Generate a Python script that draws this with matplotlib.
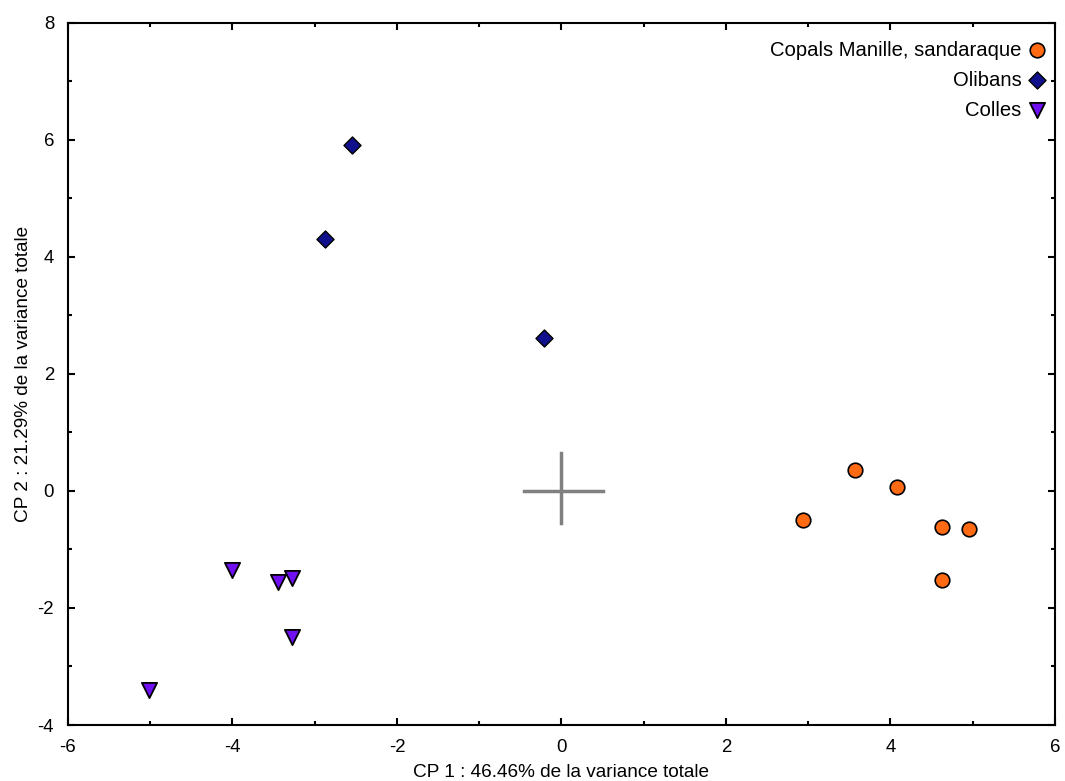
import matplotlib
matplotlib.use('Agg')
from matplotlib import pyplot as plt
from matplotlib.ticker import MultipleLocator

plt.rcParams['font.family'] = ['Liberation Sans', 'DejaVu Sans']
plt.rcParams['axes.unicode_minus'] = False

# scores on the first two principal components
copals_x = [2.94, 3.57, 4.08, 4.63, 4.95, 4.63]
copals_y = [-0.50, 0.36, 0.07, -0.62, -0.65, -1.52]
olibans_x = [-2.55, -2.88, -0.21]
olibans_y = [5.91, 4.31, 2.62]
colles_x = [-4.00, -3.45, -3.28, -3.28, -5.02]
colles_y = [-1.35, -1.56, -1.49, -2.49, -3.40]

labels = ['Copals Manille, sandaraque', 'Olibans', 'Colles']
x_label = 'CP 1 : 46.46% de la variance totale'
y_label = 'CP 2 : 21.29% de la variance totale'

fig = plt.figure(figsize=(10.65, 7.81), dpi=100)
ax = fig.add_axes([0.0638, 0.0717, 0.9268, 0.8989])

# centroid cross
ax.plot([-0.45, 0.5], [0, 0], color='#808080', linewidth=2.5, zorder=1)
ax.plot([0, 0], [-0.55, 0.65], color='#808080', linewidth=2.5, zorder=1)

ax.scatter(copals_x, copals_y, s=110, marker='o', color='#FF6A13',
           edgecolor='black', linewidth=1.2, label=labels[0], zorder=3)
ax.scatter(olibans_x, olibans_y, s=75, marker='D', color='#10108C',
           edgecolor='black', linewidth=1.0, label=labels[1], zorder=3)
ax.scatter(colles_x, colles_y, s=120, marker='v', color='#7010F0',
           edgecolor='black', linewidth=1.3, label=labels[2], zorder=3)

ax.set_xlim(-6, 6)
ax.set_ylim(-4, 8)
ax.xaxis.set_major_locator(MultipleLocator(2))
ax.yaxis.set_major_locator(MultipleLocator(2))
ax.xaxis.set_minor_locator(MultipleLocator(1))
ax.yaxis.set_minor_locator(MultipleLocator(1))
ax.tick_params(which='both', direction='in', top=True, right=True, labelsize=13.4, width=1.5)
ax.tick_params(which='major', length=5)
ax.tick_params(which='minor', length=3)
ax.tick_params(axis='x', which='major', pad=10)
ax.tick_params(axis='y', which='major', pad=10)
for spine in ax.spines.values():
    spine.set_linewidth(1.5)

ax.set_xlabel(x_label, fontsize=13.7, labelpad=6)
ax.set_ylabel(y_label, fontsize=13.7, labelpad=4)

ax.legend(loc='upper right', bbox_to_anchor=(0.992, 0.975), frameon=False,
          markerfirst=False, fontsize=14.6, handletextpad=0.25, labelspacing=0.55,
          borderaxespad=0, borderpad=0, handlelength=1.0)

plt.savefig('out.png', dpi=100)
plt.close()
